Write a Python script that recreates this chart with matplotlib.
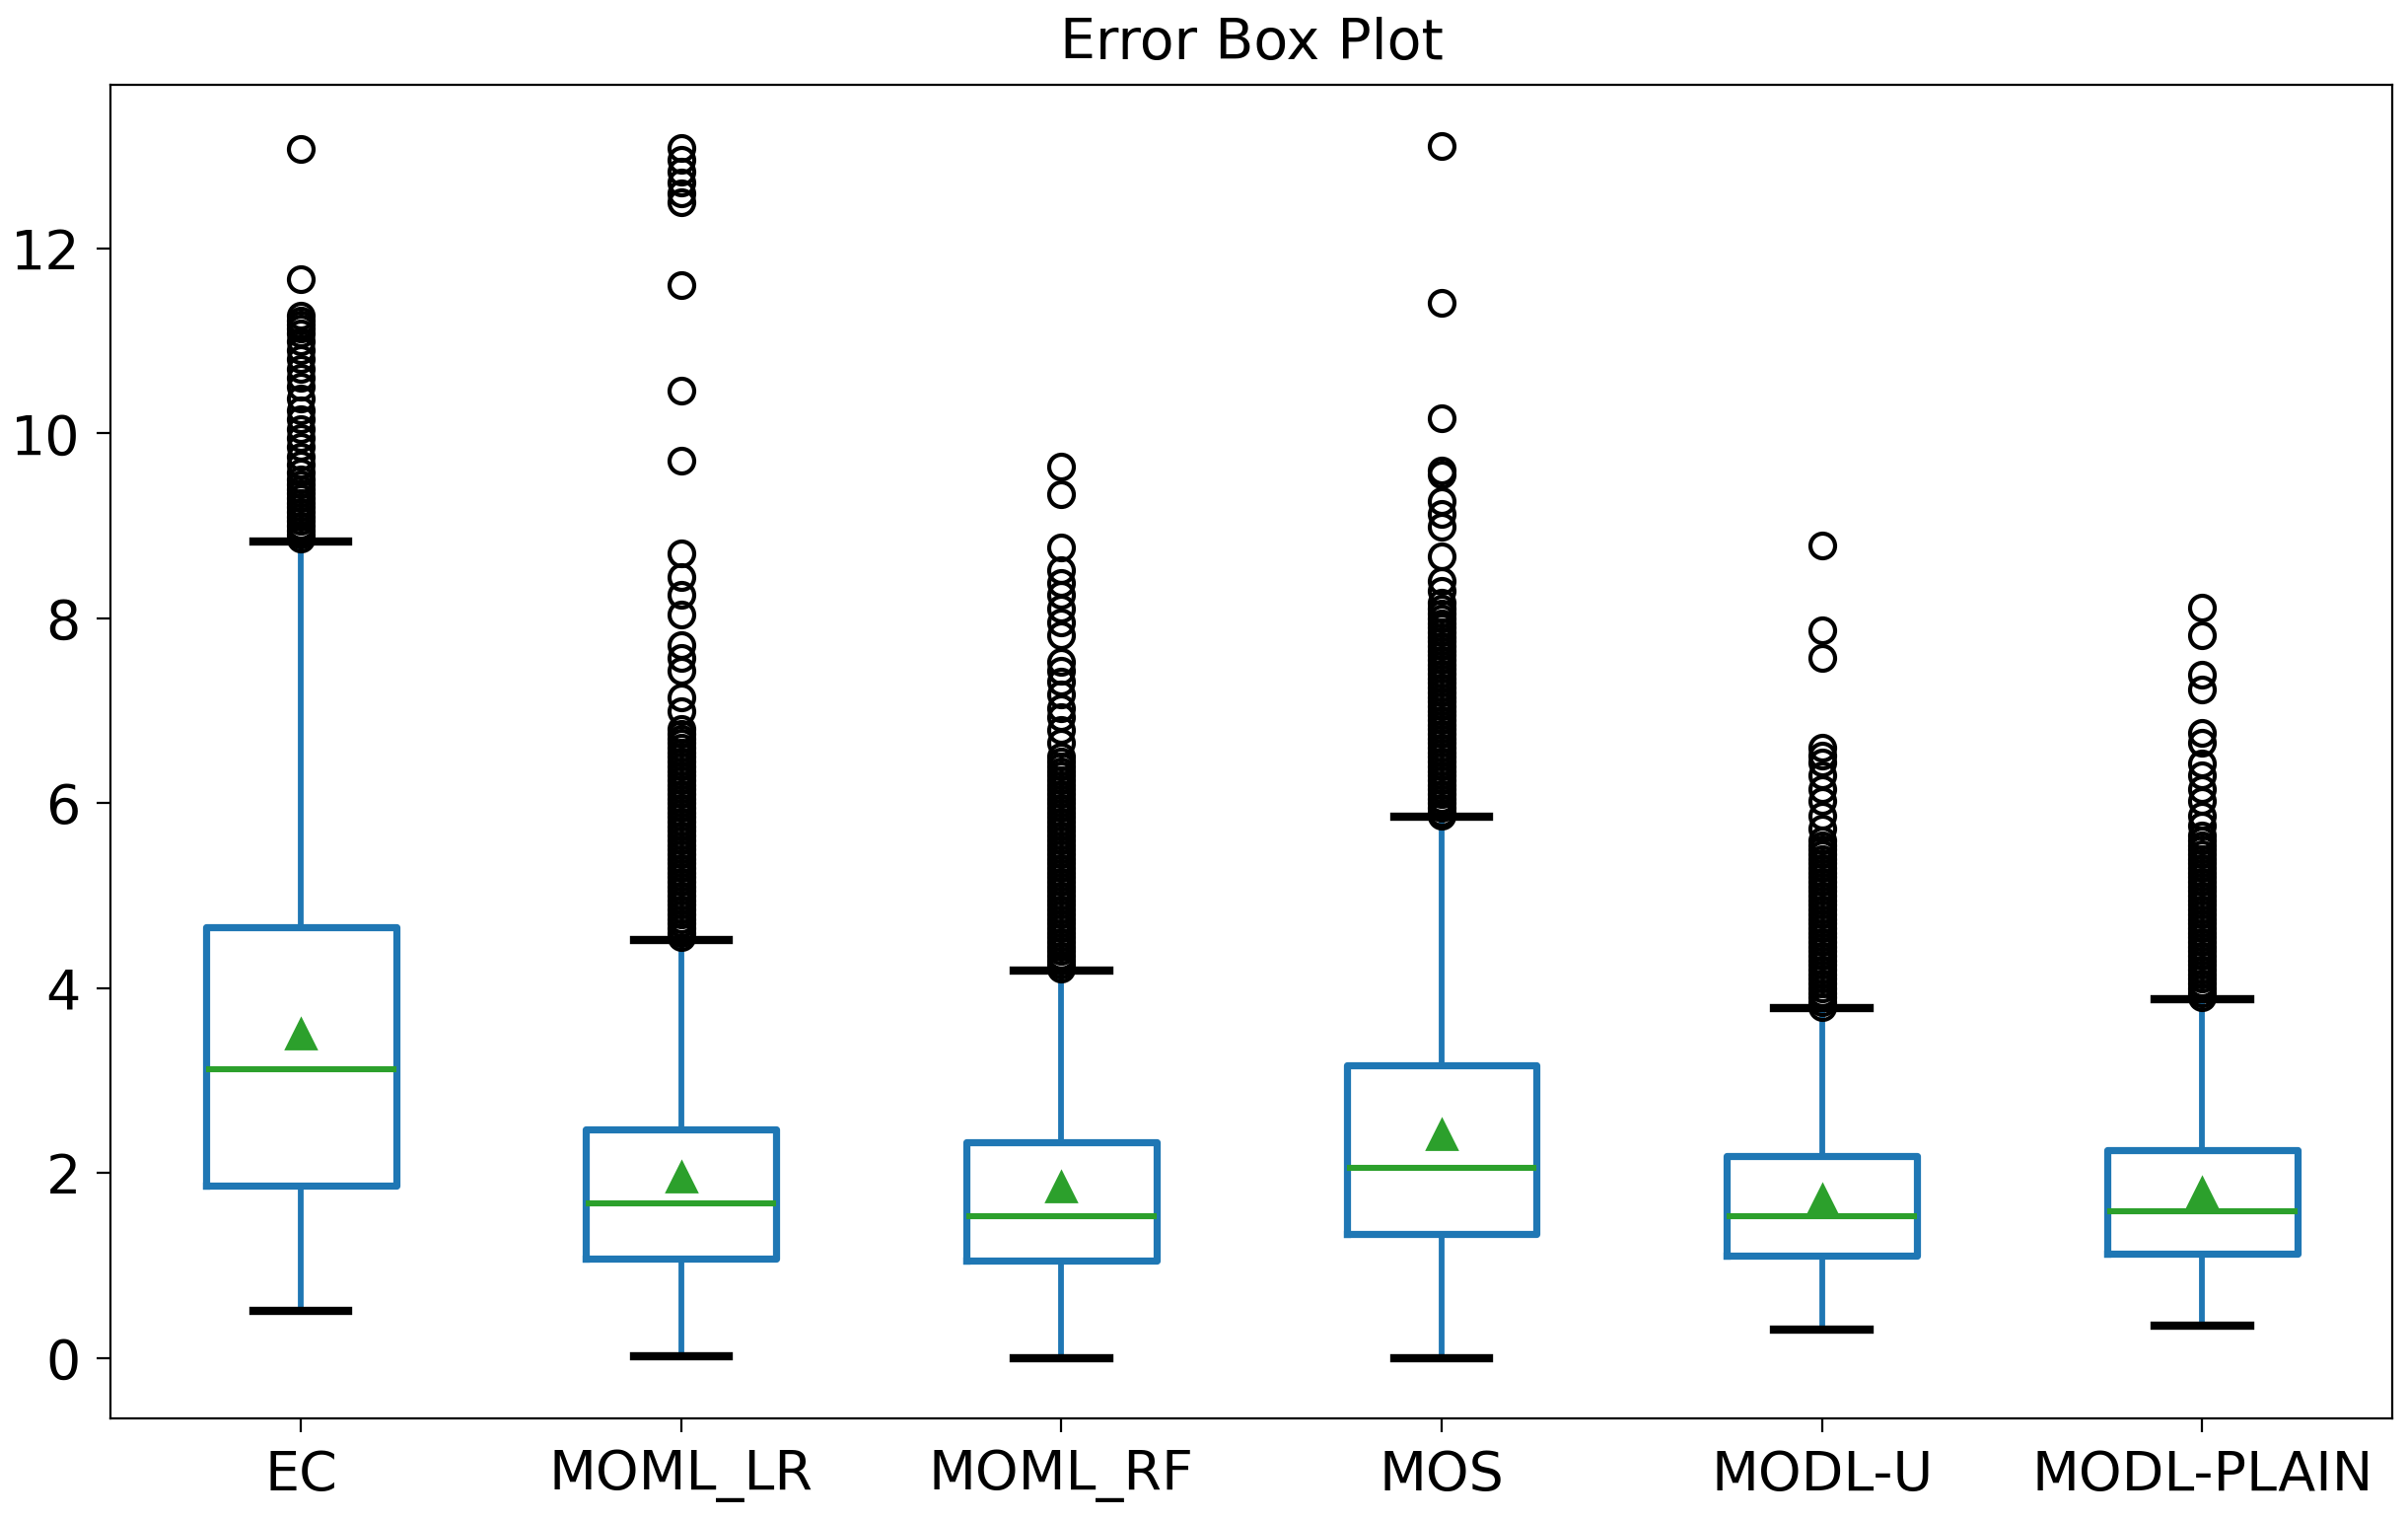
import matplotlib
matplotlib.use("Agg")
import matplotlib.pyplot as plt

# values
labels = ["EC", "MOML_LR", "MOML_RF", "MOS", "MODL-U", "MODL-PLAIN"]
q1 = [1.87, 1.08, 1.06, 1.34, 1.11, 1.13]
medians = [3.12, 1.67, 1.54, 2.06, 1.54, 1.59]
q3 = [4.66, 2.47, 2.34, 3.17, 2.19, 2.25]
means = [3.51, 1.96, 1.86, 2.42, 1.72, 1.79]
whis_lo = [0.51, 0.02, 0.0, 0.0, 0.31, 0.35]
whis_hi = [8.83, 4.52, 4.19, 5.85, 3.78, 3.88]

fliers_ec = [13.08, 11.67, 11.27, 11.22, 11.18, 11.13, 11.08, 11.0, 10.9, 10.8,
             10.7, 10.6, 10.5, 10.38, 10.25, 10.15, 10.05, 9.95, 9.85, 9.75,
             9.66, 9.58, 9.5, 9.45, 9.4, 9.35, 9.3, 9.25, 9.2, 9.15, 9.1,
             9.05, 9.0, 8.95, 8.9, 8.86]
fliers_lr = [13.09, 12.96, 12.83, 12.71, 12.6, 12.5, 11.6, 10.46, 9.7, 8.7,
             8.45, 8.25, 8.04, 7.71, 7.57, 7.43, 7.14, 7.0,
             6.8, 6.75, 6.7, 6.65, 6.6, 6.55, 6.5, 6.45, 6.4, 6.35, 6.3, 6.25,
             6.2, 6.15, 6.1, 6.05, 6.0, 5.95, 5.9, 5.85, 5.8, 5.75, 5.7, 5.65,
             5.6, 5.55, 5.5, 5.45, 5.4, 5.35, 5.3, 5.25, 5.2, 5.15, 5.1, 5.05,
             5.0, 4.95, 4.9, 4.85, 4.8, 4.75, 4.7, 4.65, 4.6, 4.55]
fliers_rf = [9.64, 9.34, 8.77, 8.52, 8.38, 8.25, 8.1, 7.96, 7.82, 7.53, 7.43,
             7.32, 7.18, 7.03, 6.93, 6.79, 6.65,
             6.5, 6.45, 6.4, 6.35, 6.3, 6.25, 6.2, 6.15, 6.1, 6.05, 6.0, 5.95,
             5.9, 5.85, 5.8, 5.75, 5.7, 5.65, 5.6, 5.55, 5.5, 5.45, 5.4, 5.35,
             5.3, 5.25, 5.2, 5.15, 5.1, 5.05, 5.0, 4.95, 4.9, 4.85, 4.8, 4.75,
             4.7, 4.65, 4.6, 4.55, 4.5, 4.45, 4.4, 4.35, 4.3, 4.25, 4.21]
fliers_mos = [13.11, 11.41, 10.16, 9.6, 9.55, 9.27, 9.13, 8.99, 8.67, 8.4, 8.3,
              8.17, 8.1, 8.05, 8.0, 7.95, 7.9, 7.85, 7.8, 7.75, 7.7, 7.65, 7.6,
              7.55, 7.5, 7.45, 7.4, 7.35, 7.3, 7.25, 7.2, 7.15, 7.1, 7.05, 7.0,
              6.95, 6.9, 6.85, 6.8, 6.75, 6.7, 6.65, 6.6, 6.55, 6.5, 6.45, 6.4,
              6.35, 6.3, 6.25, 6.2, 6.15, 6.1, 6.05, 6.0, 5.95, 5.9, 5.87]
fliers_u = [8.79, 7.87, 7.57, 6.6, 6.52, 6.44, 6.3, 6.15, 6.02, 5.87, 5.73,
            5.6, 5.55, 5.5, 5.45, 5.4, 5.35, 5.3, 5.25, 5.2, 5.15, 5.1, 5.05,
            5.0, 4.95, 4.9, 4.85, 4.8, 4.75, 4.7, 4.65, 4.6, 4.55, 4.5, 4.45,
            4.4, 4.35, 4.3, 4.25, 4.2, 4.15, 4.1, 4.05, 4.0, 3.95, 3.9, 3.85,
            3.8]
fliers_plain = [8.12, 7.82, 7.39, 7.23, 6.76, 6.65, 6.43, 6.3, 6.15, 6.02, 5.87,
                5.76, 5.65, 5.6, 5.55, 5.5, 5.45, 5.4, 5.35, 5.3, 5.25, 5.2,
                5.15, 5.1, 5.05, 5.0, 4.95, 4.9, 4.85, 4.8, 4.75, 4.7, 4.65,
                4.6, 4.55, 4.5, 4.45, 4.4, 4.35, 4.3, 4.25, 4.2, 4.15, 4.1,
                4.05, 4.0, 3.95, 3.9]
fliers = [fliers_ec, fliers_lr, fliers_rf, fliers_mos, fliers_u, fliers_plain]

stats = []
for i in range(len(labels)):
    stats.append(dict(label=labels[i], q1=q1[i], med=medians[i], q3=q3[i],
                      mean=means[i], whislo=whis_lo[i], whishi=whis_hi[i],
                      fliers=fliers[i]))

blue = "#1f77b4"
green = "#2ca02c"

fig, ax = plt.subplots(figsize=(12.21, 7.7), dpi=200)
fig.subplots_adjust(left=0.046, right=0.9935, bottom=0.066, top=0.944)

ax.bxp(stats, positions=range(1, len(labels) + 1), widths=0.5, showmeans=True,
       boxprops=dict(color=blue, linewidth=2.6),
       whiskerprops=dict(color=blue, linewidth=2.1),
       capprops=dict(color="black", linewidth=3.0),
       medianprops=dict(color=green, linewidth=2.2),
       meanprops=dict(marker="^", markerfacecolor=green, markeredgecolor=green,
                      markersize=11),
       flierprops=dict(marker="o", markerfacecolor="none",
                       markeredgecolor="black", markersize=9,
                       markeredgewidth=1.5))

ax.set_title("Error Box Plot", fontsize=20.5, pad=9.5)
ax.tick_params(labelsize=20, length=5, pad=6)

fig.savefig("out.png")
